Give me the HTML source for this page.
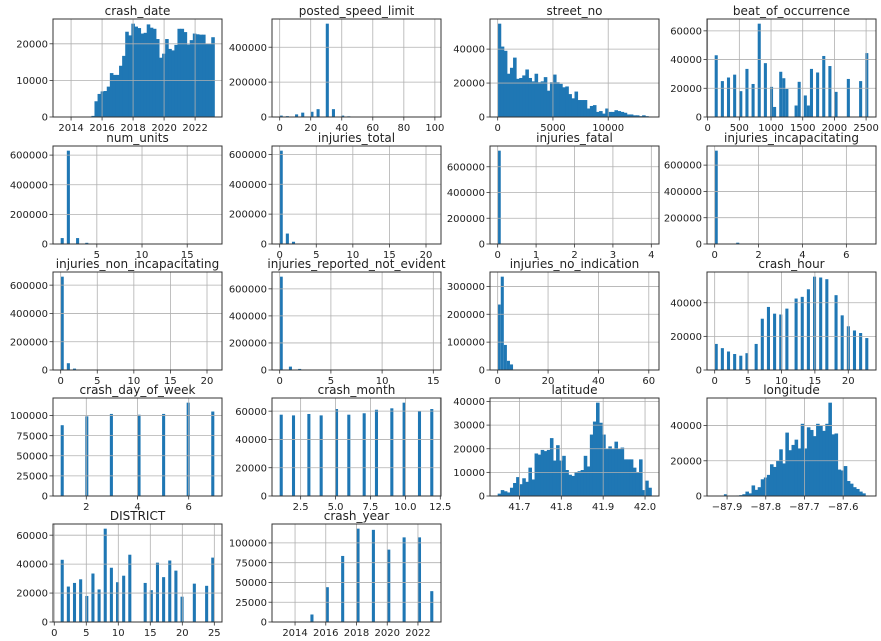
<!DOCTYPE html>
<html><head><meta charset="utf-8"><title>Histograms</title>
<style>html,body{margin:0;padding:0;background:#fff}svg{display:block}text{font-family:"DejaVu Sans","Liberation Sans",sans-serif;fill:#222}</style>
</head><body>
<svg id="fig" width="881" height="641" viewBox="0 0 881 641" xmlns="http://www.w3.org/2000/svg"></svg>
<script>
// ---- data ----
const crashDateCounts=[0,0,0,0,0,0,0,0,0,0,300,4300,6300,7000,7100,8300,12000,11500,11500,14000,16700,23300,22300,25500,24700,24300,22800,23000,25300,24400,24100,21300,16200,17300,21300,18600,18200,19700,24100,24100,23200,19800,21000,22800,22600,22500,22500,20000,20000,21800];
const speedValues=[0,5,10,15,20,25,30,35,40,45];
const speedCounts=[8000,5000,15000,25000,30000,45000,535000,45000,8000,4000];
const streetCounts=[55000,41500,39000,25500,29000,35000,22500,23000,24500,28000,23000,21000,25500,20500,21000,23500,15500,20500,25000,20500,19500,17500,18000,13500,11000,15000,10000,10000,10000,5000,6500,7000,3000,3500,2000,5000,3000,3000,4000,3500,3000,2500,1500,1500,1000,1000,500,1000,500,300];
const beatValues=[111,215,320,420,520,620,720,820,920,1020,1060,1130,1160,1220,1260,1400,1430,1460,1520,1580,1630,1730,1830,1930,2030,2230,2420,2520];
const beatCounts=[43000,25000,27500,29500,18000,33500,23000,65000,37500,21000,7000,19500,12000,27000,19500,8000,18500,6000,15000,8000,33500,31000,42500,35500,17500,26500,25000,44500];
const unitsValues=[1,2,3,4,5];
const unitsCounts=[40000,630000,40000,8000,2000];
const injTotalValues=[0,1,2,3];
const injTotalCounts=[625000,70000,15000,3000];
const fatalValues=[0,1];
const fatalCounts=[725000,800];
const incapValues=[0,1,2];
const incapCounts=[710000,10000,1000];
const nonIncapValues=[0,1,2];
const nonIncapCounts=[660000,48000,10000];
const notEvidentValues=[0,1,2];
const notEvidentCounts=[690000,25000,8000];
const noIndValues=[0,2,3,4,5];
const noIndCounts=[235000,335000,90000,33000,20000];
const hourValues=[0,1,2,3,4,5,6,7,8,9,10,11,12,13,14,15,16,17,18,19,20,21,22,23];
const hourCounts=[15500,13000,11000,9500,8500,10000,15500,30500,37500,33500,33000,36500,42500,43500,48000,55500,55000,54000,44500,32500,26000,23500,22000,19000];
const dowValues=[1,2,3,4,5,6,7];
const dowCounts=[88000,99000,102000,101000,102000,116000,105000];
const monthValues=[1,2,3,4,5,6,7,8,9,10,11,12];
const monthCounts=[57500,57000,58000,57000,61500,57500,58500,61000,62000,66000,60000,61500];
const latCounts=[1000,2500,2000,1500,3500,5500,8000,5000,7500,6000,12000,7000,18000,17500,19500,19000,19500,24500,15000,21500,15000,17000,11000,9000,8500,10000,10500,11000,17000,12500,26000,31500,39500,31000,26000,20000,21000,20000,23000,20000,20500,15500,15500,15500,12000,10000,15500,2500,6500,3500];
const lonCounts=[0,0,0,1000,0,0,0,300,500,1000,2500,1500,6000,3500,5000,9500,10500,12000,18000,16500,20000,26500,18500,36000,26000,29000,32000,27000,41000,27000,39000,37500,34000,41000,40000,37000,41000,53000,35000,35500,15000,14500,17000,8500,7000,5000,4000,2500,1500,300];
const districtValues=[1,2,3,4,5,6,7,8,9,10,11,12,14,15,16,17,18,19,20,22,24,25];
const districtCounts=[43000,24500,27000,29500,18000,33500,22500,64500,37500,27500,32000,46500,27000,22000,41000,31000,42500,35500,17500,26500,25000,44500];
const yearValues=[2013,2014,2015,2016,2017,2018,2019,2020,2021,2022,2023];
const yearCounts=[100,300,9500,44000,83500,118000,116500,91500,107000,107000,39000];

const titles=["crash_date","posted_speed_limit","street_no","beat_of_occurrence","num_units","injuries_total","injuries_fatal","injuries_incapacitating","injuries_non_incapacitating","injuries_reported_not_evident","injuries_no_indication","crash_hour","crash_day_of_week","crash_month","latitude","longitude","DISTRICT","crash_year"];
const ranges=[[2013.33,2023.24],[0,99],[0,13900],[111,2535],[1,18],[0,21],[0,4],[0,7],[0,21],[0,15],[0,61],[0,23],[1,7],[1,12],[41.648,42.015],[-87.932,-87.535],[1,25],[2013,2023]];
const xTicks=[[2014,2016,2018,2020,2022],[0,20,40,60,80,100],[0,5000,10000],[0,500,1000,1500,2000,2500],[5,10,15],[0,5,10,15,20],[0,1,2,3,4],[0,2,4,6],[0,5,10,15,20],[0,5,10,15],[0,20,40,60],[0,5,10,15,20],[2,4,6],[2.5,5,7.5,10,12.5],[41.7,41.8,41.9,42.0],[-87.9,-87.8,-87.7,-87.6],[0,5,10,15,20,25],[2014,2016,2018,2020,2022]];
const xTickLabels=[null,null,null,null,null,null,null,null,null,null,null,null,null,["2.5","5.0","7.5","10.0","12.5"],["41.7","41.8","41.9","42.0"],["\u221287.9","\u221287.8","\u221287.7","\u221287.6"],null,null];
const yTicks=[[0,10000,20000],[0,200000,400000],[0,20000,40000],[0,20000,40000,60000],[0,200000,400000,600000],[0,200000,400000,600000],[0,200000,400000,600000],[0,200000,400000,600000],[0,200000,400000,600000],[0,200000,400000,600000],[0,100000,200000,300000],[0,20000,40000],[0,25000,50000,75000,100000],[0,20000,40000,60000],[0,10000,20000,30000,40000],[0,20000,40000],[0,20000,40000,60000],[0,25000,50000,75000,100000]];
const dense={0:crashDateCounts,2:streetCounts,14:latCounts,15:lonCounts};
const sparse={1:[speedValues,speedCounts],3:[beatValues,beatCounts],4:[unitsValues,unitsCounts],5:[injTotalValues,injTotalCounts],6:[fatalValues,fatalCounts],7:[incapValues,incapCounts],8:[nonIncapValues,nonIncapCounts],9:[notEvidentValues,notEvidentCounts],10:[noIndValues,noIndCounts],11:[hourValues,hourCounts],12:[dowValues,dowCounts],13:[monthValues,monthCounts],16:[districtValues,districtCounts],17:[yearValues,yearCounts]};

// ---- drawing ----
const NS="http://www.w3.org/2000/svg";
const svg=document.getElementById('fig');
const W=169,H=98,colX=[53,272,490,707],rowY=[19,146,272,398,524];
function mk(tag,attrs,parent){const e=document.createElementNS(NS,tag);for(const k in attrs)e.setAttribute(k,attrs[k]);parent.appendChild(e);return e;}
function slug(s){return s.toLowerCase().replace(/_/g,'-');}

for(let i=0;i<titles.length;i++){
  const x0=colX[i%4],y0=rowY[Math.floor(i/4)];
  const lo=ranges[i][0],hi=ranges[i][1],bw=(hi-lo)/50;
  const xmin=lo-0.05*(hi-lo),xmax=hi+0.05*(hi-lo);
  let counts;
  if(dense[i]){counts=dense[i];}
  else{counts=new Array(50).fill(0);const v=sparse[i][0],c=sparse[i][1];
    for(let k=0;k<v.length;k++){let b=Math.floor((v[k]-lo)/bw+1e-9);b=Math.max(0,Math.min(49,b));counts[b]+=c[k];}}
  const ymax=Math.max(...counts)*1.05;
  const sx=v=>x0+(v-xmin)/(xmax-xmin)*W;
  const sy=v=>y0+H-v/ymax*H;
  const g=mk('g',{},svg);
  
  
  const overlap=dense[i]?0.5:0;
  for(let k=0;k<50;k++){
    if(counts[k]<=0)continue;
    const xa=sx(lo+k*bw),xb=sx(lo+(k+1)*bw);
    const r=mk('rect',{x:xa.toFixed(2),y:sy(counts[k]).toFixed(2),width:(xb-xa+overlap).toFixed(2),height:(y0+H-sy(counts[k])).toFixed(2),fill:'#1f77b4'},g);
    
    
  }
  xTicks[i].forEach((t,j)=>{
    const x=sx(t);if(x<x0-0.5||x>x0+W+0.5)return;
    const gl=mk('line',{x1:x,x2:x,y1:y0,y2:y0+H,stroke:'#b0b0b0','stroke-width':0.8},g);
    
    
    mk('line',{x1:x,x2:x,y1:y0+H,y2:y0+H+3.5,stroke:'#333','stroke-width':0.8},g);
    const lab=xTickLabels[i]?xTickLabels[i][j]:String(t);
    const tx=mk('text',{x:x,y:y0+H+14,'font-size':10,'text-anchor':'middle'},g);
    tx.textContent=lab;
    
    
  });
  yTicks[i].forEach(t=>{
    const y=sy(t);if(y<y0-0.5)return;
    const gl=mk('line',{x1:x0,x2:x0+W,y1:y,y2:y,stroke:'#b0b0b0','stroke-width':0.8},g);
    
    
    mk('line',{x1:x0-3.5,x2:x0,y1:y,y2:y,stroke:'#333','stroke-width':0.8},g);
    const tx=mk('text',{x:x0-5,y:y+3.6,'font-size':10,'text-anchor':'end'},g);
    tx.textContent=String(t);
    
    
  });
  const fr=mk('rect',{x:x0,y:y0,width:W,height:H,fill:'none',stroke:'#333','stroke-width':1},g);
  
  
  const ti=mk('text',{x:x0+W/2,y:y0-4,'font-size':12,'text-anchor':'middle'},g);
  ti.textContent=titles[i];
  
  
}
</script>
</body></html>
